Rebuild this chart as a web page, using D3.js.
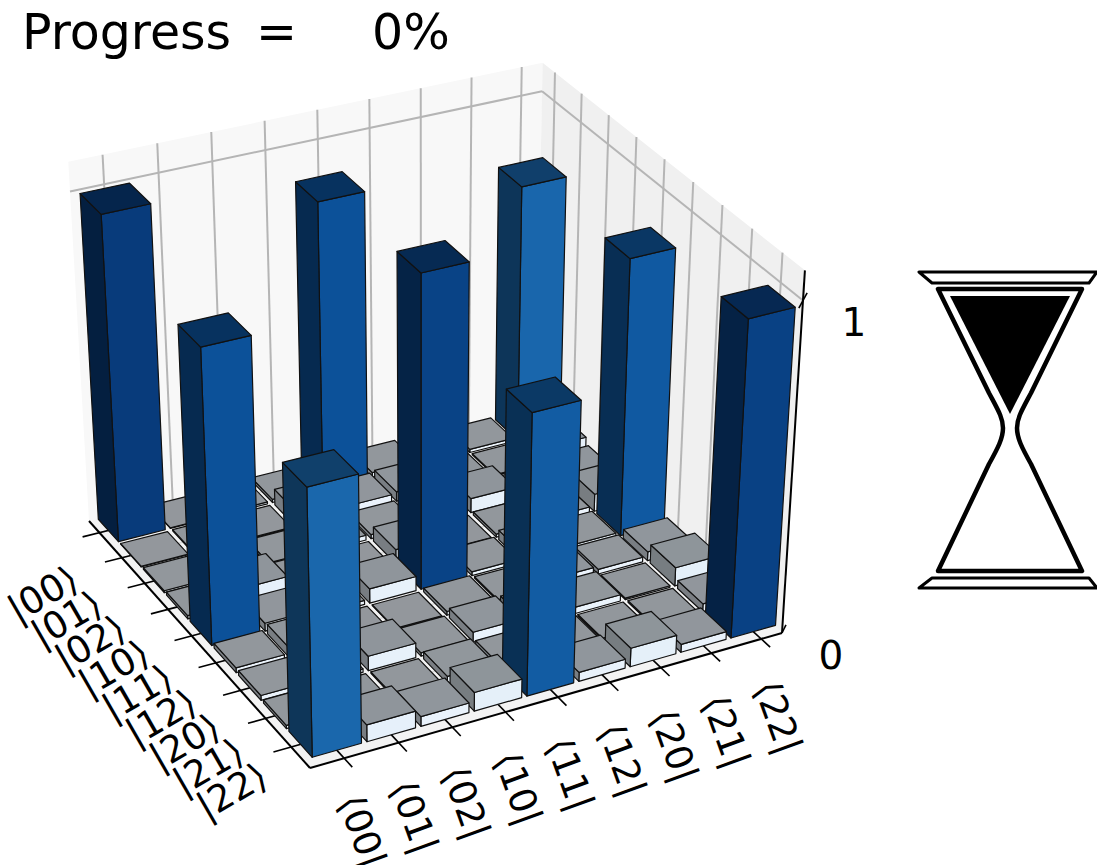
<!DOCTYPE html>
<html>
<head>
<meta charset="utf-8">
<script src="https://cdn.jsdelivr.net/npm/d3@7"></script>
<style>
  body { margin: 0; background: #fff; }
  text { font-family: "DejaVu Sans", sans-serif; fill: #000; }
</style>
</head>
<body>
<svg id="chart" width="1097" height="865"></svg>
<script>
const rowLabels = ["|00⟩", "|01⟩", "|02⟩", "|10⟩", "|11⟩", "|12⟩", "|20⟩", "|21⟩", "|22⟩"];
const colLabels = ["⟨00|", "⟨01|", "⟨02|", "⟨10|", "⟨11|", "⟨12|", "⟨20|", "⟨21|", "⟨22|"];

// values, one list per row
const row00 = [0.99, .002, .006, .01, 0.89, .015, .015, .01, 0.80];
const row01 = [.002, .004, .003, .05, .025, .03, .01, .004, .05];
const row02 = [.006, .003, .008, .015, .013, .003, .045, .005, .03];
const row10 = [.01, .05, .015, .003, .045, .003, .01, .018, .055];
const row11 = [0.89, .025, .013, .045, 0.955, .012, .03, .012, 0.855];
const row12 = [.015, .03, .003, .003, .012, .005, .025, .015, .028];
const row20 = [.015, .01, .045, .01, .03, .025, .02, .005, .058];
const row21 = [.01, .004, .005, .022, .012, .015, .005, .005, .025];
const row22 = [0.795, .052, .03, .058, 0.845, .028, .058, .025, 0.96];
const matrix = [row00, row01, row02, row10, row11, row12, row20, row21, row22];

// screen position of the pane corners, used to fit the camera
const floorL = [89, 521], floorF = [310, 768], floorR = [782, 633], floorB = [536, 409];
const topL = [70, 192], topR = [803, 300];
const N = 9, zTop = 1.085;

function solve(A, b) {
  const n = b.length, M = A.map((r, i) => [...r, b[i]]);
  for (let i = 0; i < n; i++) {
    let p = i;
    for (let k = i + 1; k < n; k++) if (Math.abs(M[k][i]) > Math.abs(M[p][i])) p = k;
    [M[i], M[p]] = [M[p], M[i]];
    for (let k = i + 1; k < n; k++) {
      const f = M[k][i] / M[i][i];
      for (let j = i; j <= n; j++) M[k][j] -= f * M[i][j];
    }
  }
  const x = new Array(n).fill(0);
  for (let i = n - 1; i >= 0; i--) {
    let s = M[i][n];
    for (let j = i + 1; j < n; j++) s -= M[i][j] * x[j];
    x[i] = s / M[i][i];
  }
  return x;
}

// homography from floor (u, v) to screen
const floorPts = [[0, 0, floorL], [N, 0, floorF], [N, N, floorR], [0, N, floorB]];
const A = [], B = [];
floorPts.forEach(([u, v, [x, y]]) => {
  A.push([u, v, 1, 0, 0, 0, -u * x, -v * x]); B.push(x);
  A.push([0, 0, 0, u, v, 1, -u * y, -v * y]); B.push(y);
});
const h = solve(A, B);
function num(u, v) {
  return [h[0] * u + h[1] * v + h[2], h[3] * u + h[4] * v + h[5], h[6] * u + h[7] * v + 1];
}
const nL = num(0, 0), nR = num(N, N);
const rhs = (p, n, i) => p[i] * n[2] - n[i];
const c3 = (rhs(topL, nL, 0) - rhs(topR, nR, 0)) / (topR[0] - topL[0]);
const a3 = rhs(topL, nL, 0) + topL[0] * c3;
const b3 = (rhs(topL, nL, 1) + topL[1] * c3 + rhs(topR, nR, 1) + topR[1] * c3) / 2;

function project(u, v, w) {
  const n = num(u, v), d = n[2] + c3 * w;
  return [(n[0] + a3 * w) / d, (n[1] + b3 * w) / d];
}

const uScale = d3.scaleBand().domain(rowLabels).range([0, 8.75]).paddingInner(0.1).paddingOuter(0.02);
const vScale = d3.scaleBand().domain(colLabels).range([0.15, 9.05]).paddingInner(0.1).paddingOuter(0.02);
const zScale = d3.scaleLinear().domain([0, 1]).range([0, 1]);
const shadeT = d3.scaleLinear().domain([0, 0.06, 0.795, 0.99]).range([0.05, 0.09, 0.79, 0.96]);
const color = v => d3.interpolateBlues(shadeT(v));
const rowLabelX = d3.scalePoint().domain(rowLabels).range([44, 233]);
const rowLabelY = d3.scalePoint().domain(rowLabels).range([596, 793]);
const colLabelX = d3.scalePoint().domain(colLabels).range([360, 776]);
const colLabelY = d3.scalePoint().domain(colLabels).range([832, 718]);

const svg = d3.select("#chart");
const line = d3.line();
function poly(pts, fill, stroke, sw) {
  svg.append("path").attr("d", line(pts) + "Z").attr("fill", fill)
    .attr("stroke", stroke || "none").attr("stroke-width", sw || 0).attr("stroke-linejoin", "round");
}
function seg(a, b, stroke, sw) {
  svg.append("path").attr("d", line([a, b])).attr("fill", "none").attr("stroke", stroke).attr("stroke-width", sw);
}

// panes
poly([project(0, 0, 0), project(0, 0, zTop), project(0, N, zTop), project(0, N, 0)], "#f8f8f8");
poly([project(0, N, 0), project(0, N, zTop), project(N, N, zTop), project(N, N, 0)], "#f0f0f0");
poly([project(0, 0, 0), project(N, 0, 0), project(N, N, 0), project(0, N, 0)], "#f3f3f3");

// grid
const grid = "#b5b5b5";
colLabels.forEach(c => {
  const v = vScale(c) + vScale.bandwidth() / 2;
  seg(project(0, v, 0), project(0, v, zTop), grid, 2);
  seg(project(0, v, 0), project(N, v, 0), "#d8d8d8", 1.5);
});
rowLabels.forEach(r => {
  const u = uScale(r) + uScale.bandwidth() / 2;
  seg(project(u, N, 0), project(u, N, zTop), grid, 2);
  seg(project(u, 0, 0), project(u, N, 0), "#d8d8d8", 1.5);
});
seg(project(0, 0, 1), project(0, N, 1), grid, 2);
seg(project(0, N, 1), project(N, N, 1), grid, 2);

// axes
seg(project(0, 0, 0), project(N, 0, 0), "#000", 2);
seg(project(N, 0, 0), project(N, N, 0), "#000", 2);
seg(project(N, N, 0), project(N, N, zTop), "#000", 2);

rowLabels.forEach(r => {
  const u = uScale(r) + uScale.bandwidth() / 2;
  seg(project(u, -0.32, 0), project(u, 0.32, 0), "#000", 1.6);
  svg.append("text").attr("transform", `translate(${rowLabelX(r)},${rowLabelY(r)}) rotate(-30)`)
    .attr("text-anchor", "middle").attr("dominant-baseline", "middle").attr("font-size", 37).text(r);
});
colLabels.forEach(c => {
  const v = vScale(c) + vScale.bandwidth() / 2;
  seg(project(N - 0.3, v, 0), project(N + 0.3, v, 0), "#000", 1.6);
  svg.append("text").attr("transform", `translate(${colLabelX(c)},${colLabelY(c)}) rotate(70)`)
    .attr("text-anchor", "middle").attr("dominant-baseline", "middle").attr("font-size", 37).text(c);
});
seg(project(N, N, 0), project(N - 0.2, N + 0.2, 0), "#000", 1.6);
seg(project(N - 0.2, N + 0.2, 1), project(N + 0.2, N - 0.2, 1), "#000", 1.6);

svg.append("text").attr("x", 854).attr("y", 325).attr("text-anchor", "middle")
  .attr("dominant-baseline", "middle").attr("font-size", 39).text("1");
svg.append("text").attr("x", 831).attr("y", 658).attr("text-anchor", "middle")
  .attr("dominant-baseline", "middle").attr("font-size", 39).text("0");

// bars, back to front
const shade = (c, k) => { const o = d3.rgb(c); return d3.rgb(o.r * k, o.g * k, o.b * k).formatHex(); };
const edge = "#111";
rowLabels.forEach((r, ri) => {
  for (let ci = N - 1; ci >= 0; ci--) {
    const c = colLabels[ci], val = matrix[ri][ci];
    const u0 = uScale(r), u1 = u0 + uScale.bandwidth();
    const v0 = vScale(c), v1 = v0 + vScale.bandwidth();
    const w = zScale(val), col = color(val);
    poly([project(u1, v0, 0), project(u1, v1, 0), project(u1, v1, w), project(u1, v0, w)], col, edge, 1.2);
    poly([project(u0, v0, 0), project(u1, v0, 0), project(u1, v0, w), project(u0, v0, w)], shade(col, 0.52), edge, 1.2);
    poly([project(u0, v0, w), project(u1, v0, w), project(u1, v1, w), project(u0, v1, w)], shade(col, 0.62), edge, 1.2);
  }
});

// title
const title = svg.append("text").attr("y", 49).attr("font-size", 49);
title.append("tspan").attr("x", 22).text("Progress");
title.append("tspan").attr("x", 256).text("=");
title.append("tspan").attr("x", 372).text("0%");

// hourglass
const glass = svg.append("g").attr("fill", "none").attr("stroke", "#000").attr("stroke-linejoin", "round");
glass.append("path").attr("stroke-width", 3).attr("d", "M919,272H1097L1089,283H932Z");
glass.append("path").attr("stroke-width", 3).attr("d", "M932,578H1089L1097,588H919Z");
glass.append("path").attr("stroke-width", 4.5)
  .attr("d", "M938,289H1082L1031,393C1022,410 1017,418 1017,428C1017,438 1022,448 1031,464L1082,571H938L989,464C998,448 1003,438 1003,428C1003,418 998,410 989,393Z");
glass.append("path").attr("fill", "#000").attr("stroke", "none").attr("d", "M950,296H1070L1010,414Z");
</script>
</body>
</html>
